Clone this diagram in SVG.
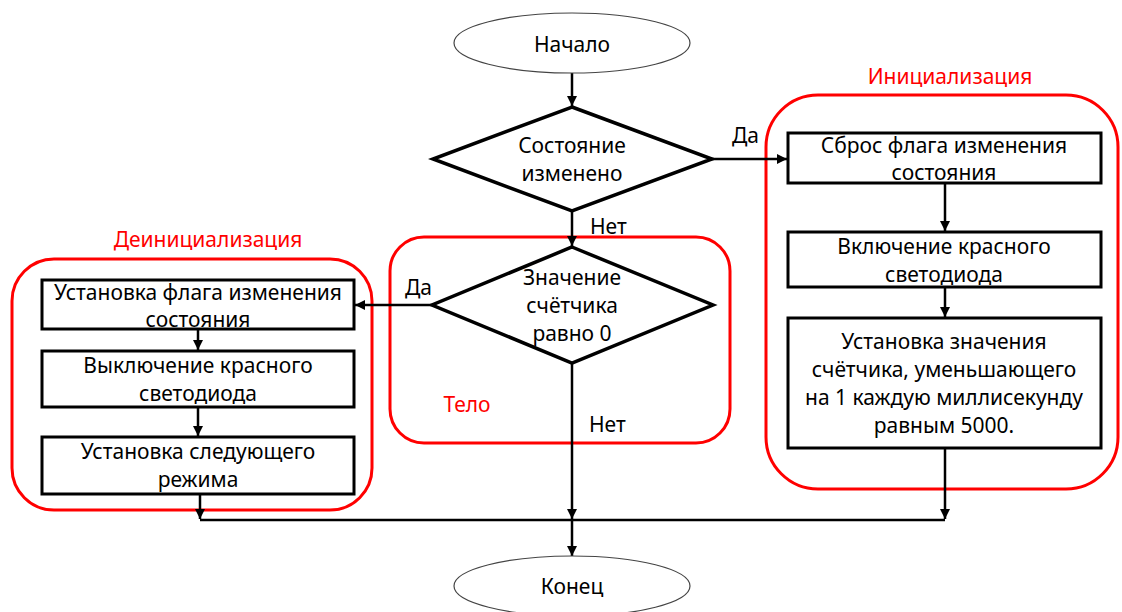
<svg xmlns="http://www.w3.org/2000/svg" width="1122" height="612" viewBox="0 0 1122 612">
  <style>
    text { font-family: "Noto Sans", "Open Sans", sans-serif; font-size: 21px; fill: #000; text-anchor: middle; dominant-baseline: central; }
    .red { fill: #ff0000; }
    .lbl { text-anchor: start; }
    .term { fill: #fff; stroke: #444; stroke-width: 1.2; }
    .box { fill: #fff; stroke: #000; stroke-width: 3; }
    .dia { fill: #fff; stroke: #000; stroke-width: 3.5; stroke-linejoin: miter; }
    .grp { fill: none; stroke: #ff0000; stroke-width: 3; }
    .con { fill: none; stroke: #000; stroke-width: 2.5; }
    .arr { marker-end: url(#ah); }
  </style>
  <defs>
    <marker id="ah" viewBox="0 0 10 10" refX="10" refY="5" markerWidth="4" markerHeight="4" orient="auto" markerUnits="strokeWidth">
      <path d="M0,0 L10,5 L0,10 z" fill="#000"/>
    </marker>
  </defs>
  <rect width="1122" height="612" fill="#fff"/>

  <!-- group frames -->
  <g id="frames">
    <rect class="grp" x="766" y="95" width="352" height="394" rx="52"/>
    <text class="red" x="950" y="76">Инициализация</text>
    <rect class="grp" x="12" y="259" width="360" height="251" rx="42"/>
    <text class="red" x="208" y="239">Деинициализация</text>
    <rect class="grp" x="390" y="237" width="340" height="206" rx="34"/>
    <text class="red" x="467" y="404">Тело</text>
  </g>

  <!-- connectors -->
  <g id="connectors">
    <line class="con arr" x1="572" y1="73" x2="572" y2="106"/>
    <line class="con arr" x1="712" y1="159" x2="787" y2="159"/>
    <line class="con arr" x1="572" y1="211" x2="572" y2="246"/>
    <line class="con arr" x1="945" y1="183" x2="945" y2="231"/>
    <line class="con arr" x1="945" y1="287" x2="945" y2="317"/>
    <line class="con arr" x1="945" y1="448" x2="945" y2="519"/>
    <line class="con arr" x1="432" y1="305" x2="355" y2="305"/>
    <line class="con arr" x1="198" y1="329" x2="198" y2="350"/>
    <line class="con arr" x1="198" y1="407" x2="198" y2="436"/>
    <line class="con arr" x1="200" y1="494" x2="200" y2="519"/>
    <line class="con arr" x1="572" y1="363" x2="572" y2="519"/>
    <line class="con" x1="200" y1="520" x2="945" y2="520"/>
    <line class="con arr" x1="572" y1="520" x2="572" y2="556"/>
    <text class="lbl" x="732" y="135">Да</text>
    <text class="lbl" x="590" y="226">Нет</text>
    <text class="lbl" x="405" y="287">Да</text>
    <text class="lbl" x="589" y="424">Нет</text>
  </g>

  <g id="start">
    <ellipse class="term" cx="572" cy="43" rx="118" ry="30"/>
    <text x="572" y="44">Начало</text>
  </g>

  <g id="state-changed">
    <polygon class="dia" points="572,107 712,159 572,211 433,159"/>
    <text x="572" y="145">Состояние</text>
    <text x="572" y="173">изменено</text>
  </g>

  <g id="reset-flag">
    <rect class="box" x="788" y="133" width="313" height="50"/>
    <text x="944" y="145">Сброс флага изменения</text>
    <text x="944" y="172">состояния</text>
  </g>

  <g id="red-led-on">
    <rect class="box" x="788" y="232" width="313" height="55"/>
    <text x="944" y="246">Включение красного</text>
    <text x="944" y="274">светодиода</text>
  </g>

  <g id="set-counter">
    <rect class="box" x="788" y="318" width="313" height="130"/>
    <text x="944" y="341">Установка значения</text>
    <text x="944" y="369">счётчика, уменьшающего</text>
    <text x="944" y="397">на 1 каждую миллисекунду</text>
    <text x="944" y="425">равным 5000.</text>
  </g>

  <g id="counter-zero">
    <polygon class="dia" points="572,247 713,305 572,363 432,305"/>
    <text x="572" y="277">Значение</text>
    <text x="572" y="305">счётчика</text>
    <text x="572" y="333">равно 0</text>
  </g>

  <g id="set-flag">
    <rect class="box" x="42" y="280" width="312" height="49"/>
    <text x="198" y="292">Установка флага изменения</text>
    <text x="198" y="319">состояния</text>
  </g>

  <g id="red-led-off">
    <rect class="box" x="42" y="351" width="312" height="56"/>
    <text x="198" y="365">Выключение красного</text>
    <text x="198" y="393">светодиода</text>
  </g>

  <g id="next-mode">
    <rect class="box" x="42" y="437" width="312" height="57"/>
    <text x="198" y="451">Установка следующего</text>
    <text x="198" y="479">режима</text>
  </g>

  <g id="end">
    <ellipse class="term" cx="572" cy="586" rx="118" ry="30"/>
    <text x="572" y="586">Конец</text>
  </g>
</svg>
